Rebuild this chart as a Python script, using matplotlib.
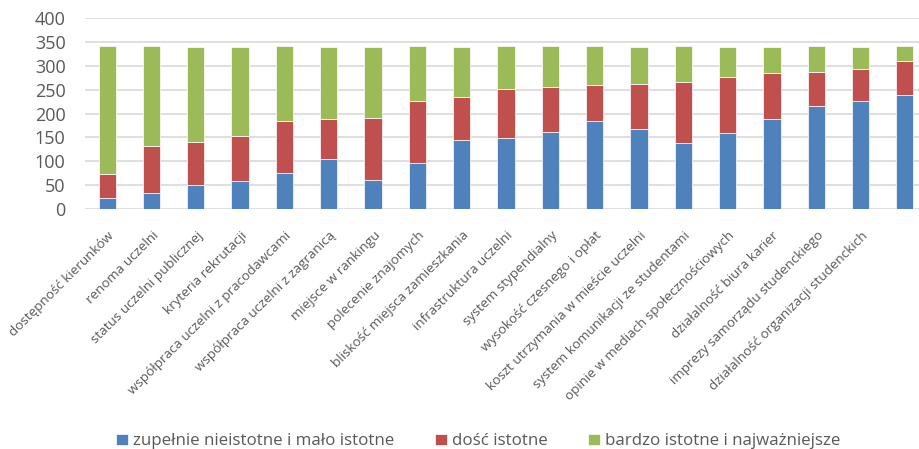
import matplotlib.pyplot as plt
import matplotlib.transforms as mtransforms
import numpy as np

categories = ['dostępność kierunków', 'renoma uczelni', 'status uczelni publicznej',
              'kryteria rekrutacji', 'współpraca uczelni z pracodawcami',
              'współpraca uczelni z zagranicą', 'miejsce w rankingu', 'polecenie znajomych',
              'bliskość miejsca zamieszkania', 'infrastruktura uczelni', 'system stypendialny',
              'wysokość czesnego i opłat', 'koszt utrzymania w mieście uczelni',
              'system komunikacji ze studentami', 'opinie w mediach społecznościowych',
              'działalność biura karier', 'imprezy samorządu studenckiego',
              'działalność organizacji studenckich', '']

malo = [24, 34, 50, 58, 75, 104, 60, 96, 144, 148, 161, 185, 167, 138, 159, 188, 216, 226, 239]
dosc = [50, 99, 91, 95, 110, 84, 130, 130, 90, 104, 94, 75, 96, 129, 117, 97, 72, 67, 72]
bardzo = [267, 208, 199, 187, 156, 151, 149, 115, 105, 90, 87, 81, 76, 74, 63, 54, 53, 46, 31]

series_names = ['zupełnie nieistotne i mało istotne', 'dość istotne', 'bardzo istotne i najważniejsze']
colors = ['#4F81BD', '#C0504D', '#9BBB59']

plt.rcParams['font.family'] = ['Open Sans', 'DejaVu Sans']

fig = plt.figure(figsize=(9.2, 4.49), dpi=100)
ax = fig.add_axes([85/920, 1 - 209/449, 842/920, (209 - 18.3)/449])

x = np.arange(len(categories))
w = 0.39
bottom = np.zeros(len(x))
for vals, name, c in zip([malo, dosc, bardzo], series_names, colors):
    ax.bar(x, vals, w, bottom=bottom, color=c, label=name, edgecolor='white', linewidth=0.5, zorder=3)
    bottom += np.array(vals)

ax.set_xlim(-0.5, len(x) - 0.5)
ax.set_ylim(0, 400)
ax.set_yticks(range(0, 401, 50))
ax.yaxis.grid(True, color='#D9D9D9', linewidth=1.2, zorder=0)
for s in ax.spines.values():
    s.set_visible(False)
ax.tick_params(axis='y', length=0, pad=14, labelsize=13, labelcolor='#595959')
ax.tick_params(axis='x', length=0, pad=14, labelsize=9.7, labelcolor='#595959')
ax.set_xticks(x)
ax.set_xticklabels(categories, rotation=45, ha='right', va='center', rotation_mode='anchor')
shift = mtransforms.ScaledTranslation(0.05, -0.05, fig.dpi_scale_trans)
for lbl in ax.get_xticklabels():
    lbl.set_transform(lbl.get_transform() + shift)

fig.legend(loc='lower center', bbox_to_anchor=(0.52, -0.035), ncol=3, frameon=False,
           fontsize=12.2, handlelength=0.7, handleheight=0.7, handletextpad=0.3,
           columnspacing=2.4, labelcolor='#595959')

fig.savefig('out.png', dpi=100)
